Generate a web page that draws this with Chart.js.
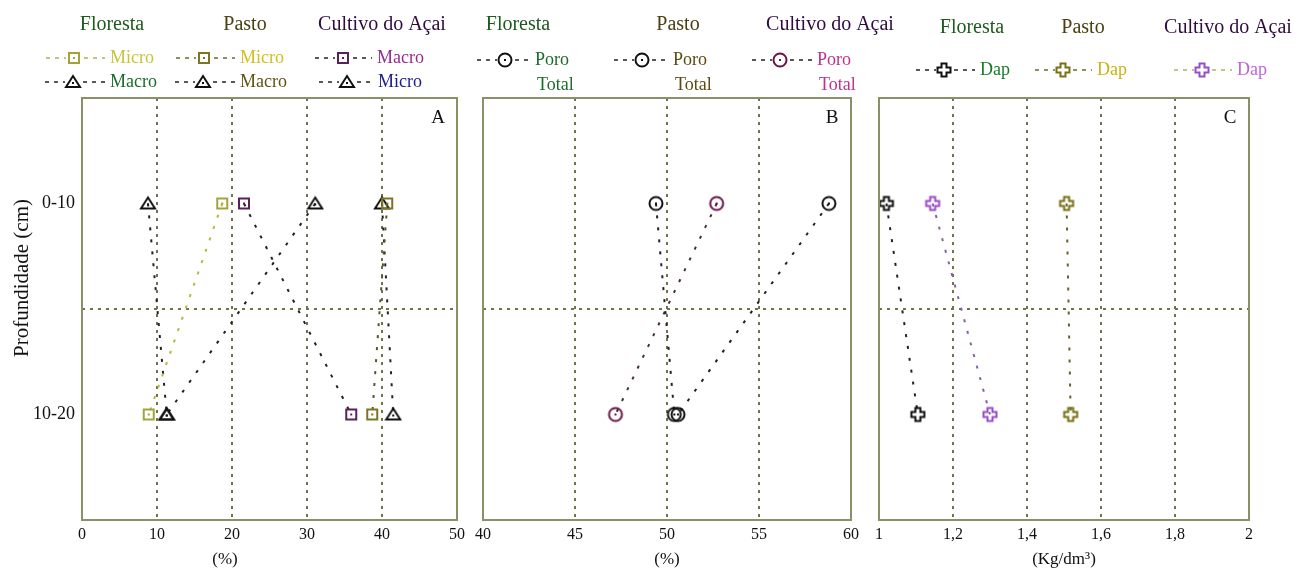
<!DOCTYPE html>
<html>
<head>
<meta charset="utf-8">
<script src="https://cdn.jsdelivr.net/npm/chart.js@4"></script>
<style>
  body { margin: 0; background: #fff; }
  #wrap { position: relative; width: 1305px; height: 577px; overflow: hidden; }
  canvas { position: absolute; top: 0; }
</style>
</head>
<body>
<div id="wrap">
  <canvas id="chartA" width="470" height="577" style="left:0"></canvas>
  <canvas id="chartB" width="430" height="577" style="left:470px"></canvas>
  <canvas id="chartC" width="435" height="577" style="left:870px"></canvas>
</div>
<script>
// profundidade (cm): camadas e ponto médio de cada camada
const depthLabels = ['0-10', '10-20'];
const depthMid = [5, 15];
const depthBoundary = 10;

// A - micro e macroporosidade (%)
const florestaMicro = [18.7, 8.9];
const florestaMacro = [8.8, 11.3];
const pastoMicro = [40.7, 38.7];
const pastoMacro = [40.0, 41.5];
const cultivoMacro = [21.6, 35.9];
const cultivoMicro = [31.1, 11.3];

// B - porosidade total (%)
const poroFloresta = [49.4, 50.4];
const poroPasto = [58.8, 50.6];
const poroCultivo = [52.7, 47.2];

// C - densidade aparente (Kg/dm3)
const dapFloresta = [1.02, 1.105];
const dapPasto = [1.507, 1.518];
const dapCultivo = [1.145, 1.30];

const FONT = "'Liberation Serif', 'Times New Roman', serif";
const gridColor = '#6e7448';
const frameColor = '#8c8f68';

// marcadores desenhados em canvas pequenos
function marker(draw) {
    const c = document.createElement('canvas');
    c.width = 18; c.height = 18;
    const g = c.getContext('2d');
    g.lineWidth = 2;
    draw(g, 9);
    return c;
}
const square = col => marker((g, m) => {
    g.strokeStyle = col; g.fillStyle = col;
    g.strokeRect(m - 5, m - 5, 10, 10);
    g.fillRect(m - 1, m - 1, 2, 2);
});
const triangle = col => marker((g, m) => {
    g.strokeStyle = col; g.fillStyle = col;
    g.beginPath();
    g.moveTo(m, m - 6); g.lineTo(m + 7, m + 5); g.lineTo(m - 7, m + 5); g.closePath();
    g.stroke();
    g.fillRect(m - 1, m, 2, 2);
});
const circle = col => marker((g, m) => {
    g.strokeStyle = col; g.fillStyle = col;
    g.beginPath(); g.arc(m, m, 6.5, 0, Math.PI * 2); g.stroke();
    g.fillRect(m - 1, m - 1, 2, 2);
});
const cross = col => marker((g, m) => {
    g.strokeStyle = col;
    const a = 2.5, b = 6.5;
    g.beginPath();
    g.moveTo(m - a, m - b); g.lineTo(m + a, m - b); g.lineTo(m + a, m - a); g.lineTo(m + b, m - a);
    g.lineTo(m + b, m + a); g.lineTo(m + a, m + a); g.lineTo(m + a, m + b); g.lineTo(m - a, m + b);
    g.lineTo(m - a, m + a); g.lineTo(m - b, m + a); g.lineTo(m - b, m - a); g.lineTo(m - a, m - a);
    g.closePath(); g.stroke();
});

const mk = {
    sqFloresta: square('#a3a33c'),
    sqPasto: square('#7d7424'),
    sqCultivo: square('#5b1f5b'),
    tri: triangle('#111'),
    circBlack: circle('#111'),
    circCultivo: circle('#6a1448'),
    crFloresta: cross('#111'),
    crPasto: cross('#7a7014'),
    crCultivo: cross('#9a4cc8')
};

function serie(values, pm, lineColor) {
    return {
        data: values.map((v, i) => ({ x: v, y: depthMid[i] })),
        showLine: true,
        borderColor: lineColor,
        borderWidth: 2,
        borderDash: [3, 9],
        pointStyle: pm,
        pointRadius: 7,
        pointHoverRadius: 7
    };
}

// legenda, letra do painel, moldura e títulos dos eixos
const panelPlugin = {
    id: 'panel',
    afterDraw(chart, args, opts) {
        const ctx = chart.ctx;
        const a = chart.chartArea;
        ctx.save();
        ctx.strokeStyle = frameColor;
        ctx.lineWidth = 2;
        ctx.strokeRect(a.left, a.top, a.right - a.left, a.bottom - a.top);

        ctx.fillStyle = '#111';
        ctx.font = '19px ' + FONT;
        ctx.textAlign = 'center';
        ctx.textBaseline = 'middle';
        ctx.fillText(opts.letter, a.right - 19, a.top + 20);

        ctx.font = '20px ' + FONT;
        opts.titles.forEach(t => {
            ctx.fillStyle = t.color;
            ctx.fillText(t.text, t.x, opts.titleY);
        });

        ctx.font = '18px ' + FONT;
        ctx.textAlign = 'left';
        opts.items.forEach(it => {
            ctx.strokeStyle = it.dash;
            ctx.lineWidth = 1.5;
            ctx.setLineDash([4, 5]);
            ctx.beginPath();
            ctx.moveTo(it.mx - 28, it.y); ctx.lineTo(it.mx - 8, it.y);
            ctx.moveTo(it.mx + 10, it.y); ctx.lineTo(it.tx - 5, it.y);
            ctx.stroke();
            ctx.setLineDash([]);
            ctx.drawImage(it.marker, it.mx - 9, it.y - 9);
            ctx.fillStyle = it.color;
            ctx.fillText(it.label, it.tx, it.y);
            if (it.label2) ctx.fillText(it.label2, it.tx + 2, it.y + 25);
        });

        if (opts.xTitle) {
            ctx.fillStyle = '#111';
            ctx.font = '17px ' + FONT;
            ctx.textAlign = 'center';
            ctx.fillText(opts.xTitle.text, opts.xTitle.x, 560);
        }
        if (opts.yTitle) {
            ctx.fillStyle = '#111';
            ctx.font = '21px ' + FONT;
            ctx.textAlign = 'center';
            ctx.translate(opts.yTitle.x, opts.yTitle.y);
            ctx.rotate(-Math.PI / 2);
            ctx.fillText(opts.yTitle.text, 0, 0);
        }
        ctx.restore();
    }
};

function makeChart(id, datasets, xMin, xMax, step, fmt, pad, yWidth, showY, xTitle, panel) {
    return new Chart(document.getElementById(id), {
        type: 'scatter',
        data: { datasets: datasets },
        plugins: [panelPlugin],
        options: {
            responsive: false,
            animation: false,
            layout: { padding: { top: 98, right: pad, left: 0, bottom: 0 } },
            plugins: { legend: { display: false }, tooltip: { enabled: false }, panel: panel },
            scales: {
                x: {
                    type: 'linear', min: xMin, max: xMax,
                    ticks: { stepSize: step, color: '#111', font: { family: FONT, size: 16 }, padding: 5, callback: fmt },
                    grid: {
                        drawTicks: false, lineWidth: 2,
                        color: c => (c.tick && (Math.abs(c.tick.value - xMin) < 1e-6 || Math.abs(c.tick.value - xMax) < 1e-6)) ? 'transparent' : gridColor
                    },
                    border: { display: false, dash: [3, 5] },
                    title: xTitle ? { display: true, text: xTitle, color: '#111', font: { family: FONT, size: 17 }, padding: { top: 0, bottom: 7 } } : { display: false },
                    afterFit: s => { s.height = 57; }
                },
                y: {
                    type: 'linear', min: 0, max: 20, reverse: true,
                    afterDataLimits: s => { s.min = depthMid[0] - (depthBoundary - depthMid[0]); s.max = depthMid[1] + (depthMid[1] - depthBoundary); },
                    afterBuildTicks: s => { s.ticks = [depthMid[0], depthBoundary, depthMid[1]].map(v => ({ value: v })); },
                    ticks: {
                        display: showY, color: '#111', font: { family: FONT, size: 18 }, padding: 7,
                        callback: v => { const i = depthMid.indexOf(v); return i >= 0 ? depthLabels[i] : ''; }
                    },
                    grid: { drawTicks: false, lineWidth: 2, color: c => (c.tick && c.tick.value === depthBoundary) ? gridColor : 'transparent' },
                    border: { display: false, dash: [3, 5] },
                    afterFit: s => { s.width = yWidth; }
                }
            }
        }
    });
}

const intFmt = v => String(v);
const decFmt = v => String(+(+v).toFixed(1)).replace('.', ',');

makeChart('chartA', [
    serie(florestaMicro, mk.sqFloresta, '#b8b840'),
    serie(florestaMacro, mk.tri, '#222'),
    serie(pastoMicro, mk.sqPasto, '#55552a'),
    serie(pastoMacro, mk.tri, '#222'),
    serie(cultivoMacro, mk.sqCultivo, '#2a1a2a'),
    serie(cultivoMicro, mk.tri, '#222')
], 0, 50, 10, intFmt, 13, 82, true, null, {
    letter: 'A', titleY: 25,
    titles: [
        { text: 'Floresta', x: 112, color: '#1d5a1d' },
        { text: 'Pasto', x: 245, color: '#4a4010' },
        { text: 'Cultivo do Açai', x: 382, color: '#300a40' }
    ],
    items: [
        { mx: 74, y: 58, marker: mk.sqFloresta, dash: '#b0b050', label: 'Micro', color: '#c8c43a', tx: 110 },
        { mx: 73, y: 82, marker: mk.tri, dash: '#222', label: 'Macro', color: '#1b6b2b', tx: 110 },
        { mx: 204, y: 58, marker: mk.sqPasto, dash: '#6a6a30', label: 'Micro', color: '#d0c020', tx: 240 },
        { mx: 203, y: 82, marker: mk.tri, dash: '#222', label: 'Macro', color: '#5e5412', tx: 240 },
        { mx: 343, y: 58, marker: mk.sqCultivo, dash: '#222', label: 'Macro', color: '#962a96', tx: 377 },
        { mx: 347, y: 82, marker: mk.tri, dash: '#222', label: 'Micro', color: '#1c1c88', tx: 378 }
    ],
    xTitle: { text: '(%)', x: 225 },
    yTitle: { text: 'Profundidade (cm)', x: 22, y: 278 }
});

makeChart('chartB', [
    serie(poroFloresta, mk.circBlack, '#222'),
    serie(poroPasto, mk.circBlack, '#222'),
    serie(poroCultivo, mk.circCultivo, '#4a2a40')
], 40, 60, 5, intFmt, 49, 8, false, '(%)', {
    letter: 'B', titleY: 25,
    titles: [
        { text: 'Floresta', x: 48, color: '#1d5a1d' },
        { text: 'Pasto', x: 208, color: '#4a4010' },
        { text: 'Cultivo do Açai', x: 360, color: '#300a40' }
    ],
    items: [
        { mx: 35, y: 60, marker: mk.circBlack, dash: '#222', label: 'Poro', label2: 'Total', color: '#1b6b2b', tx: 65 },
        { mx: 172, y: 60, marker: mk.circBlack, dash: '#222', label: 'Poro', label2: 'Total', color: '#5a4a10', tx: 203 },
        { mx: 310, y: 60, marker: mk.circCultivo, dash: '#222', label: 'Poro', label2: 'Total', color: '#c03090', tx: 347 }
    ]
});

makeChart('chartC', [
    serie(dapFloresta, mk.crFloresta, '#222'),
    serie(dapPasto, mk.crPasto, '#6a6020'),
    serie(dapCultivo, mk.crCultivo, '#8a60a0')
], 1, 2, 0.2, decFmt, 56, 8, false, '(Kg/dm³)', {
    letter: 'C', titleY: 28,
    titles: [
        { text: 'Floresta', x: 102, color: '#1d5a1d' },
        { text: 'Pasto', x: 213, color: '#4a4010' },
        { text: 'Cultivo do Açai', x: 358, color: '#300a40' }
    ],
    items: [
        { mx: 74, y: 70, marker: mk.crFloresta, dash: '#222', label: 'Dap', color: '#157a25', tx: 110 },
        { mx: 193, y: 70, marker: mk.crPasto, dash: '#6a6a30', label: 'Dap', color: '#c8b414', tx: 227 },
        { mx: 332, y: 70, marker: mk.crCultivo, dash: '#b0b070', label: 'Dap', color: '#c064d8', tx: 367 }
    ]
});
</script>
</body>
</html>
